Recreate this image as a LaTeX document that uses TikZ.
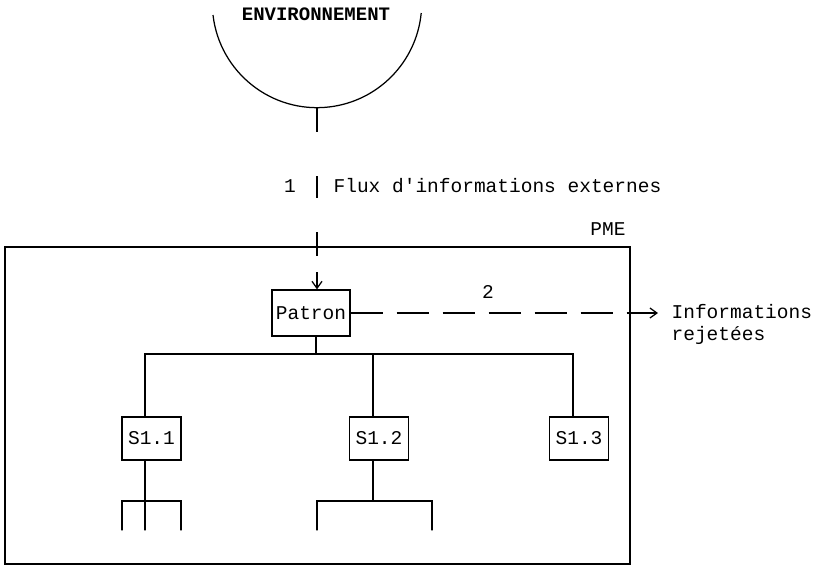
\documentclass[tikz,border=0pt]{standalone}
\usepackage{fontspec}
\setmonofont{Liberation Mono}
\usetikzlibrary{arrows.meta}
\begin{document}
\begin{tikzpicture}[x=1pt,y=-1pt, line width=1.25pt,
  txt/.style={font=\ttfamily\fontsize{19.5}{22}\selectfont, inner sep=0pt},
  sbox/.style={draw, txt, minimum width=59pt, minimum height=43pt},
  flowv/.style={dash pattern=on 24pt off 44pt on 22pt off 34pt on 24pt off 16pt, -{Straight Barb[length=7pt,width=10pt]}},
  flowh/.style={dash pattern=on 32pt off 14pt, -{Straight Barb[length=7pt,width=10pt]}},
  link/.style={line cap=round}]
\useasboundingbox (0,0) rectangle (815,566);
% environment
\draw (213,15) arc[start angle=186.6, end angle=354.5, radius=104.7pt];
\node[txt, font=\ttfamily\bfseries\fontsize{19}{22}\selectfont] (env) at (316,14) {ENVIRONNEMENT};
\coordinate (envb) at (317,108);
% enterprise box
\draw (5,247) rectangle (630,564);
\node[txt] (pme) at (608,229) {PME};
% patron
\node[sbox, minimum width=78pt, minimum height=46pt] (patron) at (311,313) {Patron};
% external flow
\draw[flowv] (envb) -- (envb |- patron.north);
\node[txt] (n1) at (290,186) {1};
\node[txt, anchor=west] (flux) at (333,186) {Flux d'informations externes};
% rejected flow
\coordinate (rej) at (658,313);
\draw[flowh] (patron.east) -- (rej);
\node[txt] (n2) at (488,292) {2};
\node[txt, anchor=west, align=left] (info) at (671,324) {Informations\\rejetées};
% subsystems
\node[sbox] (s11) at (151.5,438.5) {S1.1};
\node[sbox] (s12) at (379,438.5) {S1.2};
\node[sbox] (s13) at (579,438.5) {S1.3};
% tree
\coordinate (j) at (316,354);
\coordinate (ja) at (145,354);
\coordinate (jb) at (373,354);
\coordinate (jc) at (573,354);
\draw[link] (patron.south -| j) -- (j);
\draw[link] (ja |- s11.north) -- (ja) -- (jc) -- (jc |- s13.north);
\draw[link] (jb) -- (jb |- s12.north);
% sub-tree under S1.1
\coordinate (ka) at (145,501);
\draw[link] (ka |- s11.south) -- (ka);
\draw[link] (122,530) -- (122,501) -- (181,501) -- (181,530);
\draw[link] (ka) -- (145,530);
% sub-tree under S1.2
\coordinate (kb) at (373,501);
\draw[link] (kb |- s12.south) -- (kb);
\draw[link] (317,530) -- (317,501) -- (432,501) -- (432,530);
\end{tikzpicture}
\end{document}
